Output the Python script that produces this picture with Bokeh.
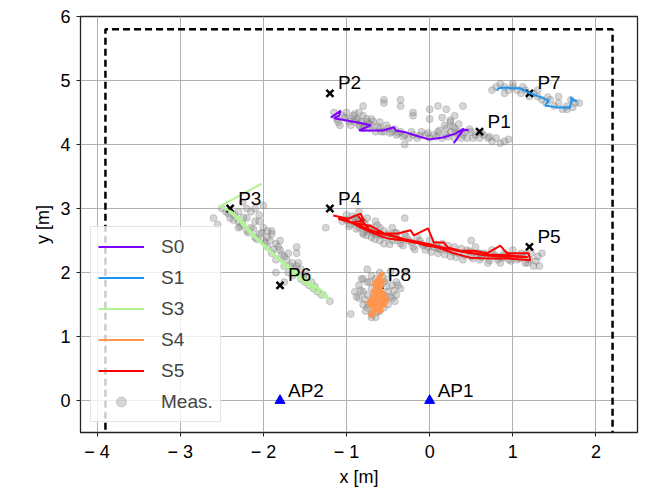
from bokeh.plotting import figure
from bokeh.models import (Legend, LegendItem, Range1d, FixedTicker,
                          ColumnDataSource, LabelSet)
from bokeh.core.properties import value
from bokeh.embed import file_html
from bokeh.resources import INLINE

# ---------------- data ----------------
x_ticks = [-4, -3, -2, -1, 0, 1, 2]
y_ticks = [0, 1, 2, 3, 4, 5, 6]
x_tick_labels = ["\u2212 4", "\u2212 3", "\u2212 2", "\u2212 1", "0", "1", "2"]

room_x = [-3.9, -3.9, 2.2, 2.2]
room_y = [-0.8, 5.8, 5.8, -0.8]

pt_names = ["P1", "P2", "P3", "P4", "P5", "P6", "P7", "P8"]
pt_x = [0.6, -1.2, -2.4, -1.2, 1.2, -1.8, 1.2, -0.6]
pt_y = [4.2, 4.8, 3.0, 3.0, 2.4, 1.8, 4.8, 1.8]

ap_names = ["AP1", "AP2"]
ap_x = [0.0, -1.8]
ap_y = [0.0, 0.0]

series_names = ["S0", "S1", "S3", "S4", "S5"]
series_colors = ["#8000ff", "#1996f3", "#b2f396", "#ff964f", "#ff0000"]

s0_x = [-1.19, -1.07, -1.09, -1.15, -0.85, -0.71, -0.85, -0.56, -0.43, -0.41,
        -0.29, -0.17, -0.01, 0.16, 0.31, 0.41, 0.29, 0.40, 0.47]
s0_y = [4.42, 4.53, 4.45, 4.41, 4.34, 4.30, 4.22, 4.22, 4.27, 4.22,
        4.19, 4.14, 4.08, 4.11, 4.17, 4.25, 4.02, 4.22, 4.23]

s1_x = [0.81, 0.83, 0.93, 0.97, 1.09, 1.21, 1.37, 1.43, 1.39, 1.53, 1.69, 1.71, 1.69, 1.77]
s1_y = [4.84, 4.88, 4.89, 4.88, 4.88, 4.80, 4.72, 4.69, 4.61, 4.58, 4.58, 4.72, 4.73, 4.67]

s3_x = [-2.02, -2.53, -2.38, -2.22, -2.30, -2.10, -1.95, -2.15, -1.85, -1.70,
        -1.80, -1.60, -1.40, -1.55, -1.25, -1.22, -1.45, -1.65, -1.90, -2.20,
        -2.45, -2.28, -2.05, -1.75, -1.50, -1.30, -1.48, -1.72, -1.98, -2.18,
        -2.36, -2.12, -1.88, -1.62, -1.38]
s3_y = [3.39, 3.03, 2.95, 2.75, 2.88, 2.55, 2.35, 2.62, 2.25, 2.05,
        2.18, 1.95, 1.80, 1.88, 1.68, 1.58, 1.78, 2.00, 2.32, 2.70,
        3.00, 2.82, 2.50, 2.15, 1.90, 1.72, 1.84, 2.10, 2.40, 2.64,
        2.90, 2.60, 2.28, 1.98, 1.76]

s4_x = [-0.56, -0.62, -0.58, -0.66, -0.60, -0.70, -0.55, -0.50, -0.63, -0.72,
        -0.60, -0.70, -0.66, -0.72, -0.64, -0.52, -0.60, -0.55, -0.65, -0.68,
        -0.58, -0.62, -0.69, -0.57, -0.74, -0.66, -0.53, -0.61, -0.67, -0.59]
s4_y = [2.00, 1.90, 1.85, 1.75, 1.70, 1.60, 1.62, 1.55, 1.55, 1.50,
        1.45, 1.40, 1.35, 1.32, 1.50, 1.60, 1.75, 1.90, 1.65, 1.45,
        1.38, 1.58, 1.70, 1.80, 1.52, 1.42, 1.50, 1.66, 1.82, 1.95]

s5_x = [-1.16, -0.98, -0.83, -0.79, -0.95, -0.71, -0.55, -0.38, -0.23, -0.19,
        -0.02, 0.05, 0.17, 0.22, 0.37, 0.53, 0.69, 0.85, 0.93, 1.09,
        1.19, 1.21, 0.93, 0.69, 0.49, 0.29, 0.10, -0.11, -0.31, -0.50,
        -0.67, -0.83, -0.98, -1.10, -0.90, -0.62, -0.30, 0.00, 0.35, 0.70,
        1.00, 1.18, 0.95, 0.62, 0.28, -0.05, -0.40, -0.72, -0.86]
s5_y = [2.89, 2.84, 2.92, 2.81, 2.78, 2.73, 2.61, 2.61, 2.66, 2.58,
        2.69, 2.47, 2.47, 2.39, 2.34, 2.34, 2.30, 2.42, 2.30, 2.30,
        2.30, 2.19, 2.22, 2.22, 2.23, 2.30, 2.39, 2.45, 2.50, 2.53,
        2.61, 2.70, 2.81, 2.84, 2.76, 2.62, 2.52, 2.44, 2.33, 2.26,
        2.25, 2.24, 2.27, 2.28, 2.36, 2.42, 2.56, 2.66, 2.88]

meas_s0_x = [-1.15, -1.12, -1.10, -1.08, -1.05, -1.00, -0.95, -0.95, -0.92, -0.90,
             -0.88, -0.85, -0.85, -0.82, -0.80, -0.80, -0.78, -0.75, -0.72, -0.70,
             -0.70, -0.65, -0.60, -0.60, -0.55, -0.50, -0.45, -0.40, -0.35, -0.30,
             -0.25, -0.20, -0.15, -0.10, -0.05, 0.00, 0.05, 0.10, 0.15, 0.20,
             0.20, 0.25, 0.30, 0.30, 0.35, 0.40, 0.45, 0.50, 0.55, 0.60,
             0.65, 0.70, 0.75, 0.80, 0.90, -0.80, -0.55, -0.55, -0.20, -0.20,
             0.00, 0.00, 0.10, 0.20, 0.30, 0.40, -0.30, -0.35, -0.35, 0.25,
             -1.02, -0.97, -0.90, -0.86, -0.83, -0.76, -0.73, -0.68, -0.62, -0.58,
             -0.52, -0.48, -0.42, -0.38, -0.32, -0.22, -0.12, -0.02, 0.08, 0.12,
             0.18, 0.22, 0.28, 0.32, 0.38, 0.42, 0.48, 0.52, 0.62, 0.72,
             0.85, 0.95, 0.15, 0.25, 0.35]
meas_s0_y = [4.50, 4.40, 4.35, 4.30, 4.45, 4.50, 4.40, 4.30, 4.45, 4.35,
             4.40, 4.30, 4.50, 4.35, 4.25, 4.45, 4.30, 4.35, 4.25, 4.30,
             4.40, 4.20, 4.25, 4.35, 4.20, 4.25, 4.20, 4.15, 4.20, 4.15,
             4.10, 4.15, 4.10, 4.20, 4.15, 4.10, 4.15, 4.20, 4.10, 4.25,
             4.15, 4.20, 4.10, 4.25, 4.20, 4.15, 4.10, 4.20, 4.15, 4.10,
             4.15, 4.10, 4.05, 4.10, 4.05, 4.60, 4.65, 4.70, 4.50, 4.45,
             4.40, 4.55, 4.60, 4.55, 4.45, 4.60, 4.00, 4.70, 4.60, 4.35,
             4.42, 4.36, 4.48, 4.38, 4.28, 4.40, 4.32, 4.36, 4.28, 4.20,
             4.30, 4.18, 4.24, 4.18, 4.12, 4.20, 4.14, 4.18, 4.12, 4.22,
             4.30, 4.12, 4.28, 4.18, 4.10, 4.20, 4.24, 4.10, 4.18, 4.12,
             4.02, 4.08, 4.42, 4.38, 4.32]

meas_s1_x = [0.75, 0.80, 0.85, 0.90, 0.95, 1.00, 1.05, 1.10, 1.15, 1.20,
             1.25, 1.30, 1.35, 1.40, 1.45, 1.50, 1.55, 1.60, 1.65, 1.70,
             1.75, 1.80, 0.90, 1.00, 1.30, 1.55, 1.65, 1.12, 1.42, 1.72]
meas_s1_y = [4.85, 4.90, 4.95, 4.90, 4.85, 4.90, 4.85, 4.80, 4.85, 4.75,
             4.80, 4.75, 4.70, 4.65, 4.70, 4.60, 4.65, 4.55, 4.60, 4.70,
             4.65, 4.65, 4.80, 4.95, 4.85, 4.75, 4.55, 4.90, 4.74, 4.58]

meas_s3_x = [-2.45, -2.40, -2.35, -2.30, -2.30, -2.25, -2.20, -2.20, -2.15, -2.15,
             -2.10, -2.05, -2.10, -2.05, -2.00, -2.00, -1.95, -1.95, -1.90, -1.90,
             -1.85, -1.85, -1.80, -1.80, -1.75, -1.75, -1.70, -1.70, -1.65, -1.65,
             -1.60, -1.60, -1.55, -1.55, -1.50, -1.50, -1.45, -1.40, -1.35, -1.30,
             -1.20, -2.60, -2.55, -2.00, -2.25, -1.85, -1.75, -2.30, -2.10, -1.95,
             -2.50, -2.42, -2.36, -2.28, -2.24, -2.18, -2.12, -2.08, -2.02, -1.98,
             -1.92, -1.88, -1.82, -1.78, -1.72, -1.68, -1.62, -1.58, -1.52, -1.48,
             -1.42, -1.38, -2.20, -2.05, -1.90, -1.60]
meas_s3_y = [2.95, 2.85, 2.90, 2.80, 2.95, 2.75, 2.85, 2.65, 2.70, 2.95,
             3.00, 2.90, 2.55, 2.60, 2.70, 2.50, 2.55, 2.40, 2.60, 2.30,
             2.45, 2.20, 2.35, 2.50, 2.25, 2.10, 2.30, 2.00, 2.15, 1.95,
             2.10, 2.30, 1.90, 2.05, 1.85, 2.00, 1.80, 1.75, 1.70, 1.65,
             1.55, 2.85, 2.75, 3.05, 3.10, 2.00, 1.85, 2.70, 2.80, 2.65,
             3.00, 2.92, 2.82, 2.72, 2.86, 2.62, 2.68, 2.52, 2.62, 2.46,
             2.50, 2.36, 2.40, 2.28, 2.20, 2.10, 2.05, 2.15, 1.95, 1.90,
             1.85, 1.78, 3.00, 2.80, 2.65, 2.40]

meas_s5_x = [-1.25, -1.05, -1.00, -0.95, -0.90, -0.85, -0.85, -0.80, -0.75, -0.75,
             -0.70, -0.70, -0.65, -0.65, -0.60, -0.60, -0.55, -0.55, -0.50, -0.45,
             -0.45, -0.40, -0.35, -0.30, -0.25, -0.20, -0.15, -0.10, -0.05, 0.00,
             0.05, 0.10, 0.15, 0.20, 0.25, 0.30, 0.35, 0.40, 0.45, 0.50,
             0.55, 0.60, 0.65, 0.70, 0.75, 0.80, 0.85, 0.90, 0.95, 1.00,
             1.05, 1.10, 1.15, 1.20, 1.25, 1.30, 1.35, -0.30, 0.50, -0.85,
             -0.80, -0.60, -0.40, 0.10, 0.60, 0.85, 1.15,
             -1.00, -0.97, -0.93, -0.90, -0.88, -0.86, -0.83, -0.80, -0.78, -0.76,
             -0.72, -0.68, -0.66, -0.63, -0.58, -0.52, -0.48, -0.42, -0.38, -0.32,
             -0.28, -0.22, -0.18, -0.12, -0.08, -0.02, 0.02, 0.08, 0.12, 0.18,
             0.22, 0.28, 0.32, 0.38, 0.42, 0.48, 0.52, 0.58, 0.62, 0.68,
             0.72, 0.78, 0.82, 0.88, 0.92, 0.98, 1.02, 1.08, 1.12, 1.18,
             1.22, 1.28, 1.32]
meas_s5_y = [2.70, 2.80, 2.90, 2.75, 2.85, 2.70, 2.95, 2.80, 2.65, 2.85,
             2.70, 2.55, 2.60, 2.80, 2.50, 2.70, 2.45, 2.65, 2.60, 2.50,
             2.70, 2.55, 2.45, 2.60, 2.50, 2.40, 2.55, 2.45, 2.35, 2.50,
             2.40, 2.30, 2.45, 2.35, 2.25, 2.40, 2.30, 2.20, 2.35, 2.25,
             2.40, 2.20, 2.30, 2.15, 2.35, 2.25, 2.15, 2.30, 2.20, 2.35,
             2.20, 2.30, 2.15, 2.20, 2.10, 2.25, 2.30, 2.85, 2.50, 2.85,
             2.60, 2.60, 2.62, 2.38, 2.30, 2.25, 2.28,
             2.82, 2.72, 2.88, 2.78, 2.68, 2.82, 2.74, 2.62, 2.76, 2.58,
             2.66, 2.62, 2.52, 2.74, 2.58, 2.55, 2.44, 2.62, 2.50, 2.42,
             2.56, 2.47, 2.36, 2.50, 2.42, 2.40, 2.32, 2.44, 2.36, 2.28,
             2.42, 2.32, 2.24, 2.37, 2.27, 2.33, 2.22, 2.30, 2.24, 2.28,
             2.19, 2.27, 2.20, 2.23, 2.28, 2.18, 2.26, 2.22, 2.25, 2.15,
             2.30, 2.18, 2.10]

meas_s4_x = [-0.90, -0.85, -0.85, -0.80, -0.80, -0.80, -0.75, -0.75, -0.75, -0.70,
             -0.70, -0.70, -0.70, -0.65, -0.65, -0.65, -0.65, -0.60, -0.60, -0.60,
             -0.60, -0.55, -0.55, -0.55, -0.50, -0.50, -0.50, -0.45, -0.45, -0.40,
             -0.40, -0.35, -0.95, -0.30, -0.75,
             -0.88, -0.83, -0.78, -0.73, -0.68, -0.63, -0.58, -0.53, -0.48, -0.43,
             -0.38, -0.82, -0.72, -0.62, -0.52, -0.42, -0.77, -0.67, -0.57, -0.47,
             -0.70, -0.60]
meas_s4_y = [1.70, 1.60, 1.80, 1.50, 1.70, 1.90, 1.45, 1.65, 1.85, 1.35,
             1.55, 1.75, 1.95, 1.30, 1.50, 1.70, 1.90, 1.40, 1.60, 1.80,
             2.00, 1.45, 1.65, 1.85, 1.50, 1.70, 1.90, 1.60, 1.80, 1.65,
             1.85, 1.75, 1.35, 2.00, 2.05,
             1.62, 1.72, 1.58, 1.50, 1.62, 1.38, 1.52, 1.58, 1.62, 1.72,
             1.80, 1.90, 1.85, 1.70, 1.78, 1.55, 1.40, 1.45, 1.95, 2.02,
             1.30, 1.68]

meas_x = meas_s0_x + meas_s1_x + meas_s3_x + meas_s5_x + meas_s4_x
meas_y = meas_s0_y + meas_s1_y + meas_s3_y + meas_s5_y + meas_s4_y

# ---------------- figure ----------------
FONT = "Liberation Sans"
p = figure(width=643, height=490, output_backend="svg", toolbar_location=None,
           x_range=Range1d(-4.2, 2.5), y_range=Range1d(-0.5, 6.0),
           min_border_left=80, min_border_right=6, min_border_top=16,
           min_border_bottom=58)
p.background_fill_color = "white"
p.border_fill_color = "white"
p.outline_line_color = "#222222"
p.outline_line_width = 1.3

p.xgrid.grid_line_color = "#b0b0b0"
p.ygrid.grid_line_color = "#b0b0b0"
p.xgrid.grid_line_width = 1
p.ygrid.grid_line_width = 1

p.xaxis.ticker = FixedTicker(ticks=x_ticks)
p.yaxis.ticker = FixedTicker(ticks=y_ticks)
p.xaxis.major_label_overrides = {t: l for t, l in zip(x_ticks, x_tick_labels)}
for ax in (p.xaxis, p.yaxis):
    ax.axis_line_color = None
    ax.major_tick_line_color = "#222222"
    ax.major_tick_out = 4
    ax.major_tick_in = 0
    ax.minor_tick_line_color = None
    ax.major_label_text_font = FONT
    ax.major_label_text_font_size = "18px"
    ax.major_label_text_color = "black"
    ax.axis_label_text_font = FONT
    ax.axis_label_text_font_size = "18px"
    ax.axis_label_text_font_style = "normal"
    ax.axis_label_text_color = "black"
p.xaxis.axis_label = "x [m]"
p.yaxis.axis_label = "y [m]"
p.xaxis.major_label_standoff = 5
p.yaxis.major_label_standoff = 6
p.xaxis.axis_label_standoff = 2
p.yaxis.axis_label_standoff = 4

# room outline
p.line(room_x, room_y, line_color="black", line_width=2.5, line_dash="7 4")

# measurements
meas = p.scatter(meas_x, meas_y, marker="circle", size=7, fill_color="#808080",
                 fill_alpha=0.32, line_color="#808080", line_alpha=0.32)

# reference points
p.scatter(pt_x, pt_y, marker="x", size=10, line_color="black", line_width=2.5)
p.scatter(ap_x, ap_y, marker="triangle", size=10, fill_color="blue", line_color="blue")

# tracks
series_x = [s0_x, s1_x, s3_x, s4_x, s5_x]
series_y = [s0_y, s1_y, s3_y, s4_y, s5_y]
renderers = []
for name, sx, sy, c in zip(series_names, series_x, series_y, series_colors):
    if name == "S4":
        p.line(sx, sy, line_color=c, line_width=4.5)
    renderers.append(p.line(sx, sy, line_color=c, line_width=2))

# labels
lab_src = ColumnDataSource(dict(x=pt_x + ap_x, y=pt_y + ap_y, t=pt_names + ap_names))
p.add_layout(LabelSet(x="x", y="y", text="t", source=lab_src, x_offset=8, y_offset=4,
                      text_font=value(FONT), text_font_size=value("19px"),
                      text_color="black", text_baseline="alphabetic"))

items = [LegendItem(label=n, renderers=[r]) for n, r in zip(series_names, renderers)]
items.append(LegendItem(label="Meas.", renderers=[meas]))
legend = Legend(items=items, location=(10, 10), label_text_font=FONT,
                label_text_font_size="19px", glyph_width=46, glyph_height=25,
                label_height=25, spacing=6, label_standoff=17,
                padding=7, margin=0,
                background_fill_color="white", background_fill_alpha=0.8,
                border_line_color="#cccccc", border_line_width=1)
p.add_layout(legend, "center")

open("out.html", "w").write(file_html(p, INLINE))
